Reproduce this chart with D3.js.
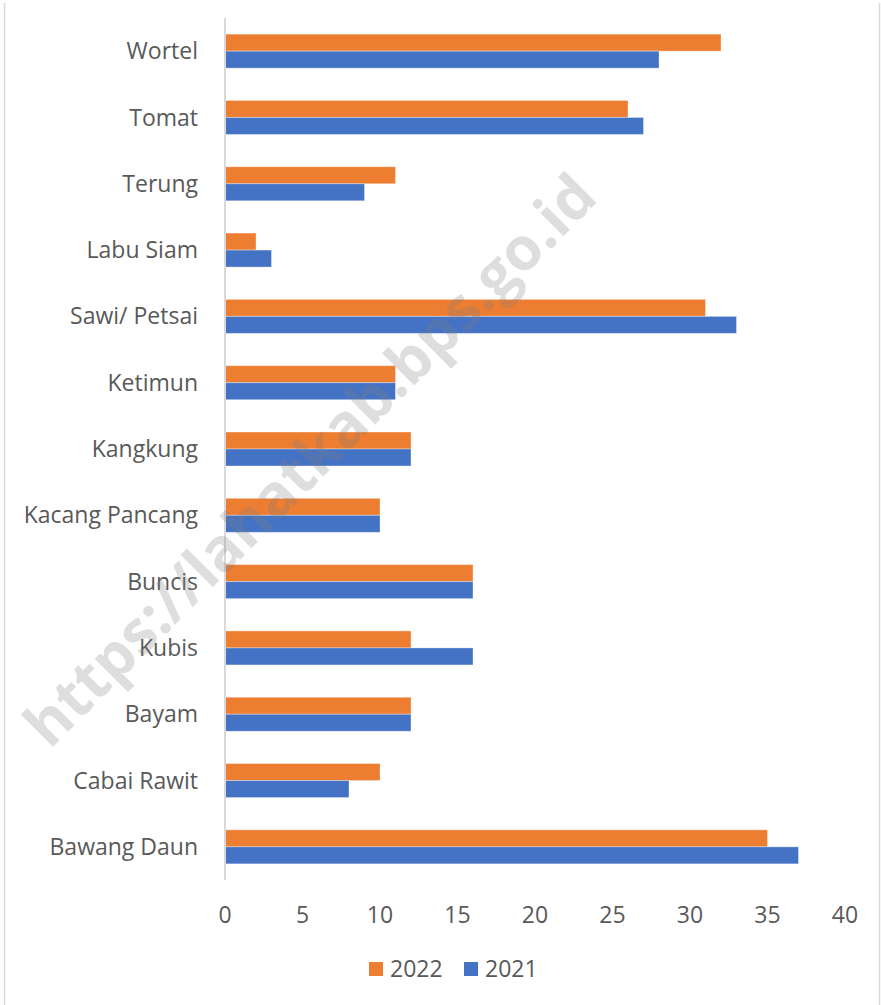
<!DOCTYPE html>
<html>
<head>
<meta charset="utf-8">
<script src="https://d3js.org/d3.v7.min.js"></script>
<style>
  body { margin: 0; background: #fff; }
  text { font-family: "Open Sans", sans-serif; fill: #595959; }
</style>
</head>
<body>
<div id="chart"></div>
<script>
// categories, top to bottom
var categories = ["Wortel", "Tomat", "Terung", "Labu Siam", "Sawi/ Petsai", "Ketimun",
  "Kangkung", "Kacang Pancang", "Buncis", "Kubis", "Bayam", "Cabai Rawit", "Bawang Daun"];
var series = ["2022", "2021"];
var values2022 = [32, 26, 11, 2, 31, 11, 12, 10, 16, 12, 12, 10, 35];
var values2021 = [28, 27, 9, 3, 33, 11, 12, 10, 16, 16, 12, 8, 37];
var xTicks = [0, 5, 10, 15, 20, 25, 30, 35, 40];
var colors = { "2022": "#ED7D31", "2021": "#4472C4" };

var W = 881, H = 1005;
var plotLeft = 225, plotRight = 845, plotTop = 18, plotBottom = 880;

var svg = d3.select("#chart").append("svg")
    .attr("width", W).attr("height", H);

// outer frame edges
svg.append("line").attr("x1", 4.5).attr("x2", 4.5).attr("y1", 3).attr("y2", H)
    .attr("stroke", "#d9d9d9").attr("stroke-width", 1.5);
svg.append("line").attr("x1", 879.5).attr("x2", 879.5).attr("y1", 3).attr("y2", H)
    .attr("stroke", "#d9d9d9").attr("stroke-width", 1.5);

var x = d3.scaleLinear().domain([0, 40]).range([plotLeft, plotRight]);
var y = d3.scaleBand().domain(categories).range([plotTop, plotBottom])
    .paddingInner(0.487).paddingOuter(0.2435);
var y1 = d3.scaleBand().domain(series).range([0, y.bandwidth()]);

var rows = categories.map(function(c, i) {
  return { cat: c, vals: [{ s: "2022", v: values2022[i] }, { s: "2021", v: values2021[i] }] };
});

var g = svg.append("g");
g.selectAll("g.row").data(rows).enter().append("g")
    .attr("class", "row")
    .attr("transform", function(d) { return "translate(0," + y(d.cat) + ")"; })
  .selectAll("rect").data(function(d) { return d.vals; }).enter().append("rect")
    .attr("x", x(0))
    .attr("y", function(d) { return y1(d.s); })
    .attr("width", function(d) { return x(d.v) - x(0); })
    .attr("height", y1.bandwidth())
    .attr("fill", function(d) { return colors[d.s]; })
    .attr("stroke", "#fff").attr("stroke-opacity", 0.35).attr("stroke-width", 1);

// vertical axis line
svg.append("line").attr("x1", x(0)).attr("x2", x(0)).attr("y1", plotTop).attr("y2", plotBottom)
    .attr("stroke", "#d9d9d9").attr("stroke-width", 2);

// category labels
svg.selectAll("text.cat").data(categories).enter().append("text")
    .attr("class", "cat")
    .attr("x", 198)
    .attr("y", function(d) { return y(d) + y.bandwidth() / 2; })
    .attr("dy", "0.35em")
    .attr("text-anchor", "end")
    .style("font-size", "23px")
    .text(function(d) { return d; });

// x tick labels
svg.selectAll("text.tick").data(xTicks).enter().append("text")
    .attr("class", "tick")
    .attr("x", function(d) { return x(d); })
    .attr("y", 915)
    .attr("dy", "0.35em")
    .attr("text-anchor", "middle")
    .style("font-size", "23px")
    .text(function(d) { return d; });

// legend
var legend = svg.append("g").attr("transform", "translate(369,969)");
var li = legend.selectAll("g").data(series).enter().append("g")
    .attr("transform", function(d, i) { return "translate(" + (i * 95) + ",0)"; });
li.append("rect").attr("x", 0).attr("y", -7).attr("width", 14).attr("height", 14)
    .attr("fill", function(d) { return colors[d]; });
li.append("text").attr("x", 21).attr("dy", "0.35em")
    .style("font-size", "23px")
    .text(function(d) { return d; });

// watermark
svg.append("text")
    .attr("transform", "translate(310,460) rotate(-45)")
    .attr("text-anchor", "middle")
    .attr("dy", "0.35em")
    .style("font-size", "60px").style("font-weight", "bold")
    .style("fill", "#808080").style("fill-opacity", 0.26)
    .text("https://lahatkab.bps.go.id");
</script>
</body>
</html>
